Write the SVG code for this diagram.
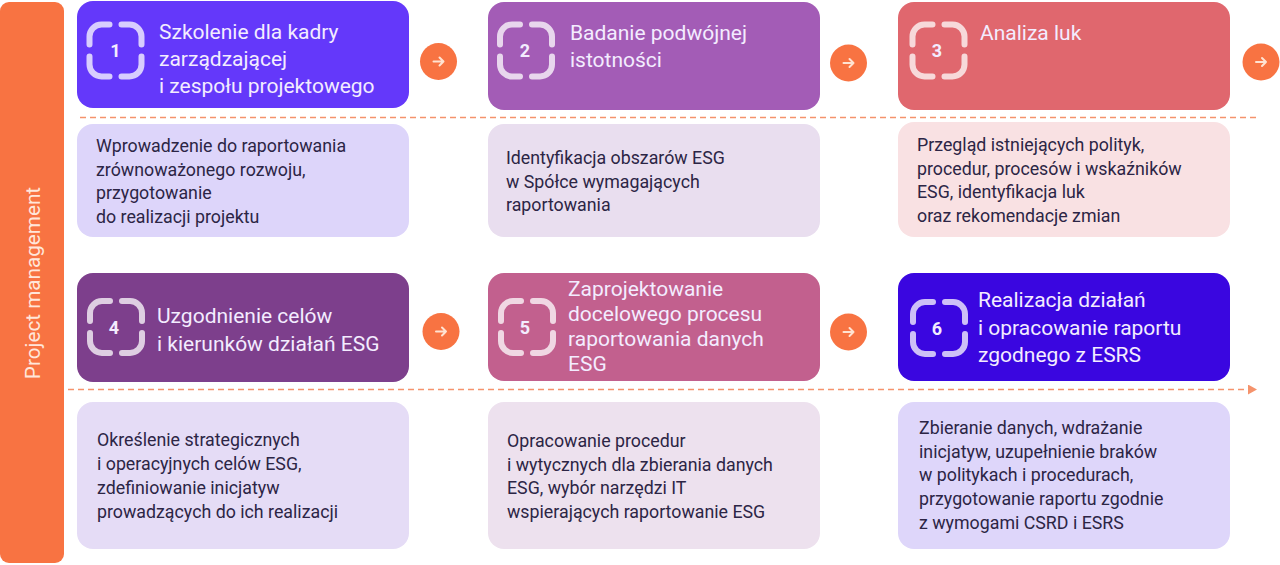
<svg xmlns="http://www.w3.org/2000/svg" width="1280" height="565" viewBox="0 0 1280 565">
<style>
.title{font-family:Roboto,"Liberation Sans",sans-serif;font-size:21px;fill:#f3ecff}
.desc{font-family:Roboto,"Liberation Sans",sans-serif;font-size:17.8px;fill:#2c2545}
.num{font-family:Roboto,"Liberation Sans",sans-serif;font-size:18px;font-weight:bold;fill:#f3ecff;text-anchor:middle}
.side{font-family:Roboto,"Liberation Sans",sans-serif;font-size:20.7px;fill:#ffe6da;text-anchor:middle}
.icon{fill:none;stroke:#ffffff;stroke-opacity:0.75;stroke-width:6;stroke-linecap:round}
.dash{stroke:#f5936c;stroke-width:1.5;stroke-dasharray:6 4;fill:none}
.circ{fill:#f87342}
.arr{stroke:#ffe3d2;stroke-width:2;fill:none;stroke-linecap:round;stroke-linejoin:round}
</style>
<defs>
<g id="bracket">
<path class="icon" d="M-26 -6 V-14 A12 12 0 0 1 -14 -26 H-6"/>
<path class="icon" d="M6 -26 H14 A12 12 0 0 1 26 -14 V-6"/>
<path class="icon" d="M26 6 V14 A12 12 0 0 1 14 26 H6"/>
<path class="icon" d="M-6 26 H-14 A12 12 0 0 1 -26 14 V6"/>
</g>
<g id="nextArrow">
<circle class="circ" r="18.5"/>
<path class="arr" d="M-5 0 H5 M1 -4 L5 0 L1 4"/>
</g>
<marker id="head" markerWidth="10" markerHeight="10" refX="8" refY="5" orient="auto" markerUnits="userSpaceOnUse">
<path d="M0 0 L9 5 L0 10 Z" fill="#f5936c"/>
</marker>
</defs>

<g id="side-bar">
<rect x="0" y="2" width="64" height="561" rx="9" fill="#f87342"/>
<text class="side" transform="translate(40,283) rotate(-90)">Project management</text>
</g>

<g id="connectors">
<line class="dash" x1="80" y1="117.5" x2="1257" y2="117.5"/>
<line class="dash" x1="68" y1="389.5" x2="1256" y2="389.5" marker-end="url(#head)"/>
<use href="#nextArrow" x="438.5" y="61.5"/>
<use href="#nextArrow" x="848.5" y="63"/>
<use href="#nextArrow" x="1261" y="62"/>
<use href="#nextArrow" x="441" y="331.5"/>
<use href="#nextArrow" x="848.5" y="332"/>
</g>

<g id="step1">
<rect x="77" y="1" width="332" height="107" rx="16" fill="#6438fa"/>
<use href="#bracket" x="115.5" y="50.5"/>
<text class="num" x="115.5" y="57">1</text>
<text class="title" x="159" y="39">Szkolenie dla kadry<tspan x="159" dy="27">zarządzającej</tspan><tspan x="159" dy="27">i zespołu projektowego</tspan></text>
</g>
<g id="desc1">
<rect x="77" y="124" width="332" height="113" rx="16" fill="#ddd5fa"/>
<text class="desc" x="96" y="152">Wprowadzenie do raportowania<tspan x="96" dy="23.5">zrównoważonego rozwoju,</tspan><tspan x="96" dy="23.5">przygotowanie</tspan><tspan x="96" dy="23.5">do realizacji projektu</tspan></text>
</g>

<g id="step2">
<rect x="488" y="2" width="332" height="108" rx="16" fill="#a35cb6"/>
<use href="#bracket" x="526" y="50.5"/>
<text class="num" x="525" y="57">2</text>
<text class="title" x="570" y="40">Badanie podwójnej<tspan x="570" dy="27">istotności</tspan></text>
</g>
<g id="desc2">
<rect x="488" y="124" width="332" height="113" rx="16" fill="#e9deef"/>
<text class="desc" x="506" y="164">Identyfikacja obszarów ESG<tspan x="506" dy="23.5">w Spółce wymagających</tspan><tspan x="506" dy="23.5">raportowania</tspan></text>
</g>

<g id="step3">
<rect x="898" y="2" width="332" height="108" rx="16" fill="#e0676e"/>
<use href="#bracket" x="938.5" y="50.5"/>
<text class="num" x="937" y="57">3</text>
<text class="title" x="980" y="40">Analiza luk</text>
</g>
<g id="desc3">
<rect x="898" y="122" width="332" height="115" rx="16" fill="#f9e1e3"/>
<text class="desc" x="917" y="151">Przegląd istniejących polityk,<tspan x="917" dy="23.5">procedur, procesów i wskaźników</tspan><tspan x="917" dy="23.5">ESG, identyfikacja luk</tspan><tspan x="917" dy="23.5">oraz rekomendacje zmian</tspan></text>
</g>

<g id="step4">
<rect x="77" y="273" width="332" height="109" rx="16" fill="#7d3f8c"/>
<use href="#bracket" x="116" y="327"/>
<text class="num" x="114" y="333.5">4</text>
<text class="title" x="157" y="323">Uzgodnienie celów<tspan x="157" dy="28">i kierunków działań ESG</tspan></text>
</g>
<g id="desc4">
<rect x="77" y="402" width="332" height="147" rx="16" fill="#e5dcf6"/>
<text class="desc" x="97" y="446">Określenie strategicznych<tspan x="97" dy="24">i operacyjnych celów ESG,</tspan><tspan x="97" dy="24">zdefiniowanie inicjatyw</tspan><tspan x="97" dy="24">prowadzących do ich realizacji</tspan></text>
</g>

<g id="step5">
<rect x="488" y="273" width="332" height="108" rx="16" fill="#c2608e"/>
<use href="#bracket" x="527" y="327"/>
<text class="num" x="525" y="333.5">5</text>
<text class="title" x="568" y="296">Zaprojektowanie<tspan x="568" dy="25">docelowego procesu</tspan><tspan x="568" dy="25">raportowania danych</tspan><tspan x="568" dy="25">ESG</tspan></text>
</g>
<g id="desc5">
<rect x="488" y="402" width="332" height="147" rx="16" fill="#ede1ee"/>
<text class="desc" x="507" y="447">Opracowanie procedur<tspan x="507" dy="23.5">i wytycznych dla zbierania danych</tspan><tspan x="507" dy="23.5">ESG, wybór narzędzi IT</tspan><tspan x="507" dy="23.5">wspierających raportowanie ESG</tspan></text>
</g>

<g id="step6">
<rect x="898" y="273" width="332" height="108" rx="16" fill="#3a06e0"/>
<use href="#bracket" x="939" y="328"/>
<text class="num" x="937" y="334.5">6</text>
<text class="title" x="978" y="307">Realizacja działań<tspan x="978" dy="27.5">i opracowanie raportu</tspan><tspan x="978" dy="27.5">zgodnego z ESRS</tspan></text>
</g>
<g id="desc6">
<rect x="898" y="402" width="332" height="147" rx="16" fill="#ded6fa"/>
<text class="desc" x="919" y="434">Zbieranie danych, wdrażanie<tspan x="919" dy="23.7">inicjatyw, uzupełnienie braków</tspan><tspan x="919" dy="23.7">w politykach i procedurach,</tspan><tspan x="919" dy="23.7">przygotowanie raportu zgodnie</tspan><tspan x="919" dy="23.7">z wymogami CSRD i ESRS</tspan></text>
</g>
</svg>
